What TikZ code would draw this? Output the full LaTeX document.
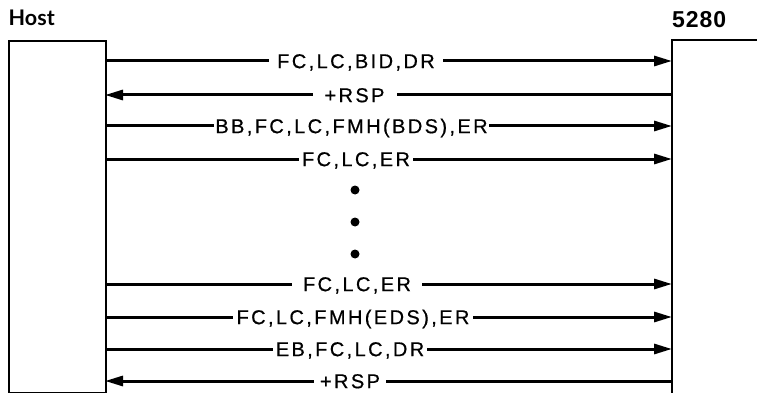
\documentclass[tikz,border=0pt]{standalone}
\usepackage{fontspec}
\setmainfont{Liberation Sans}
\newfontfamily\lblfont[LetterSpace=12,FakeBold=0.6]{Liberation Sans}
\newfontfamily\hostfont{Lato}
\newfontfamily\devfont[LetterSpace=4]{Liberation Sans}
\usetikzlibrary{arrows.meta}
\tikzset{
  boxline/.style={line width=1.8pt},
  msg/.style={line width=3pt, -{Triangle[length=18pt,width=10pt]}},
  lbl/.style={fill=white, inner ysep=1pt, text height=14.3pt, text depth=0pt,
    font=\lblfont\fontsize{20}{24}\selectfont},
  dotmark/.style={circle, fill=black, minimum size=9pt, inner sep=0pt},
}
\begin{document}
\begin{tikzpicture}[x=1pt,y=-1pt]
\useasboundingbox (0,0) rectangle (757,393);
% boxes
\node[draw, boxline, minimum width=97pt, minimum height=352pt, inner sep=0pt, anchor=north west] (host) at (8,40) {};
\coordinate (devtop) at (672,40);
\coordinate (devbot) at (672,393);
\coordinate (devedge) at (757,40);
\draw[boxline] (devedge) -- (devtop) -- (devbot);
% titles
\node[anchor=base west, inner sep=0pt, font=\hostfont\bfseries\fontsize{21.5}{24}\selectfont] (hostlbl) at (8.5,25.5) {Host};
\node[anchor=base west, inner sep=0pt, font=\devfont\bfseries\fontsize{23}{26}\selectfont] (devlbl) at (672,28) {5280};
% message rows
\foreach \i/\y in {1/61,2/95,3/126,4/159,5/284,6/317,7/349,8/381}{
  \coordinate (h\i) at (105,\y);
  \coordinate (d\i) at (672,\y);
}
\draw[msg] (h1) -- (d1);
\draw[msg] (d2) -- (h2);
\draw[msg] (h3) -- (d3);
\draw[msg] (h4) -- (d4);
\draw[msg] (h5) -- (d5);
\draw[msg] (h6) -- (d6);
\draw[msg] (h7) -- (d7);
\draw[msg] (d8) -- (h8);
\node[lbl, inner xsep=8pt] (l1) at (356,61) {FC,LC,BID,DR};
\node[lbl, inner xsep=12pt] (l2) at (354.5,95) {+RSP};
\node[lbl, inner xsep=1pt] (l3) at (351.5,126) {BB,FC,LC,FMH(BDS),ER};
\node[lbl, inner xsep=3pt] (l4) at (356,159) {FC,LC,ER};
\node[lbl, inner xsep=11pt] (l5) at (357,284) {FC,LC,ER};
\node[lbl, inner xsep=4pt] (l6) at (353,317) {FC,LC,FMH(EDS),ER};
\node[lbl, inner xsep=3pt] (l7) at (350,349) {EB,FC,LC,DR};
\node[lbl, inner xsep=6pt] (l8) at (350,381) {+RSP};
% continuation dots
\node[dotmark] (dot1) at (355,190) {};
\node[dotmark] (dot2) at (355,222) {};
\node[dotmark] (dot3) at (355,254) {};
\end{tikzpicture}
\end{document}
